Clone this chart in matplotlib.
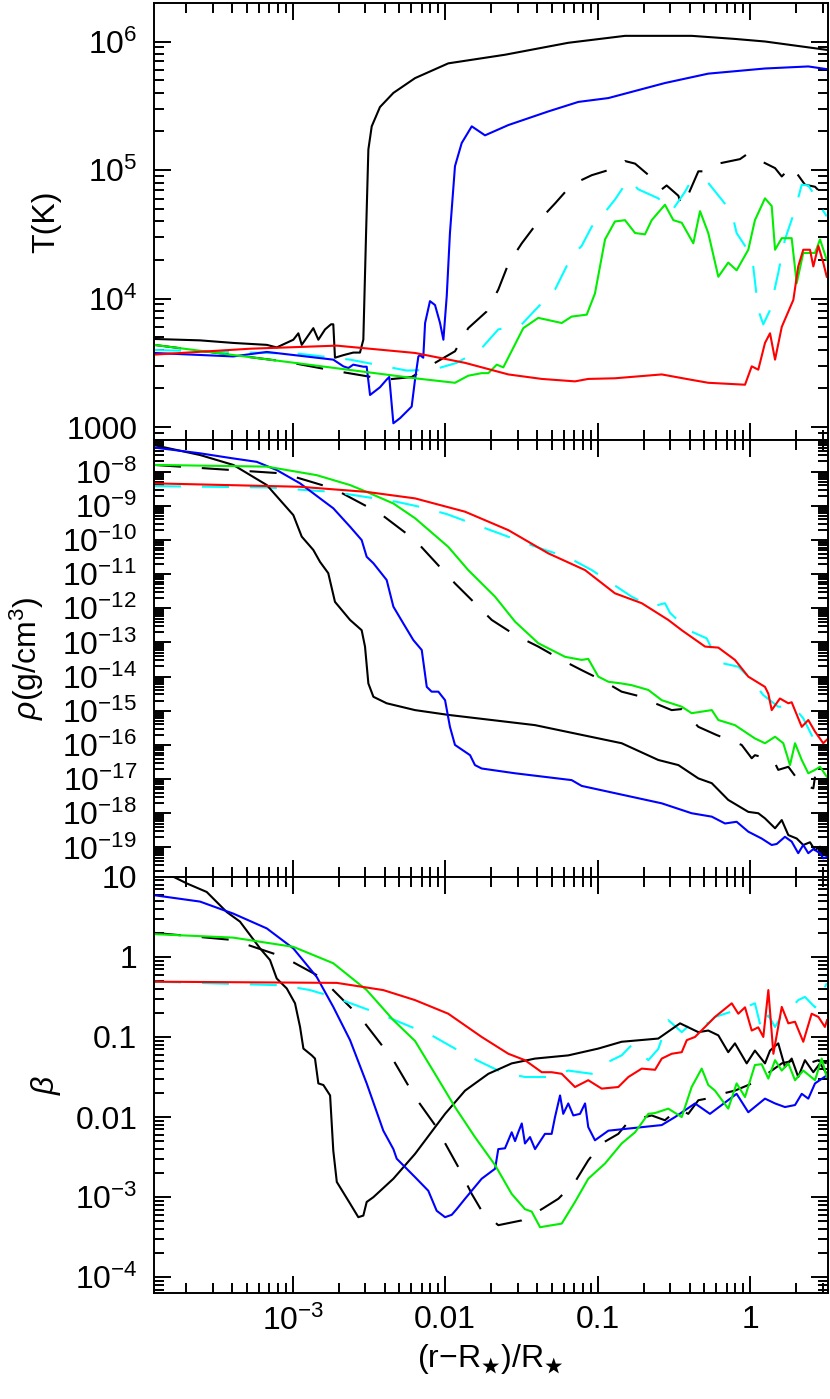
import numpy as np
import matplotlib.pyplot as plt
from matplotlib.ticker import LogLocator, FuncFormatter, NullFormatter

plt.rcParams['font.family'] = ['Liberation Sans', 'DejaVu Sans']
plt.rcParams['mathtext.fontset'] = 'custom'
plt.rcParams['mathtext.rm'] = 'Liberation Sans'
plt.rcParams['mathtext.it'] = 'Liberation Sans:italic'
plt.rcParams['mathtext.default'] = 'regular'

# all values are log10 of the quantity

# --- temperature panel ---
T_blk_x = [-3.910, -3.608, -3.390, -3.170, -3.105, -2.996, -2.963, -2.941, -2.865, -2.832, -2.788, -2.749, -2.734, -2.723, -2.668, -2.603, -2.559, -2.537, -2.519, -2.504, -2.482, -2.428, -2.340, -2.198, -1.980, -1.608, -1.193, -0.821, -0.384, -0.100, 0.097, 0.502]
T_blk_y = [3.686, 3.675, 3.655, 3.64, 3.62, 3.68, 3.73, 3.64, 3.77, 3.68, 3.76, 3.80, 3.80, 3.54, 3.56, 3.58, 3.58, 3.68, 4.51, 5.16, 5.34, 5.49, 5.60, 5.715, 5.83, 5.897, 5.99, 6.044, 6.044, 6.02, 6.0, 5.935]

T_blu_x = [-3.910, -3.390, -3.170, -2.734, -2.668, -2.635, -2.603, -2.537, -2.515, -2.493, -2.428, -2.384, -2.367, -2.340, -2.296, -2.220, -2.198, -2.176, -2.165, -2.144, -2.132, -2.100, -2.067, -2.034, -2.012, -1.990, -1.969, -1.936, -1.892, -1.826, -1.739, -1.586, -1.324, -1.127, -0.930, -0.559, -0.275, 0.097, 0.381, 0.502]
T_blu_y = [3.577, 3.55, 3.585, 3.525, 3.473, 3.46, 3.486, 3.47, 3.47, 3.25, 3.31, 3.37, 3.39, 3.03, 3.07, 3.16, 3.37, 3.55, 3.56, 3.54, 3.81, 3.98, 3.95, 3.81, 3.68, 4.02, 4.51, 5.03, 5.21, 5.34, 5.27, 5.35, 5.456, 5.53, 5.56, 5.677, 5.75, 5.79, 5.806, 5.785]

T_red_x = [-3.910, -3.280, -2.711, -2.198, -1.870, -1.586, -1.367, -1.149, -1.062, -0.887, -0.580, -0.395, -0.275, -0.034, 0.010, 0.053, 0.097, 0.130, 0.163, 0.207, 0.283, 0.315, 0.348, 0.392, 0.414, 0.447, 0.479, 0.502]
T_red_y = [3.564, 3.61, 3.634, 3.577, 3.50, 3.41, 3.375, 3.356, 3.375, 3.38, 3.41, 3.37, 3.345, 3.33, 3.473, 3.447, 3.655, 3.73, 3.525, 3.78, 3.99, 4.25, 4.38, 4.38, 4.25, 4.41, 4.28, 4.17]

T_grn_x = [-3.910, -2.198, -1.936, -1.849, -1.761, -1.717, -1.662, -1.619, -1.488, -1.390, -1.236, -1.171, -1.072, -1.018, -0.952, -0.887, -0.821, -0.755, -0.690, -0.646, -0.559, -0.504, -0.449, -0.373, -0.329, -0.275, -0.209, -0.144, -0.089, -0.0125, 0.031, 0.097, 0.141, 0.163, 0.207, 0.272, 0.305, 0.348, 0.425, 0.458, 0.502]
T_grn_y = [3.64, 3.38, 3.345, 3.40, 3.42, 3.42, 3.486, 3.465, 3.77, 3.85, 3.81, 3.86, 3.875, 4.04, 4.46, 4.60, 4.61, 4.51, 4.50, 4.61, 4.73, 4.61, 4.59, 4.43, 4.68, 4.51, 4.17, 4.28, 4.22, 4.38, 4.61, 4.78, 4.72, 4.38, 4.47, 4.47, 4.12, 4.355, 4.355, 4.46, 4.30]

T_bda_x = [-3.910, -3.050, -2.734, -2.384, -2.220, -2.067, -1.936, -1.849, -1.728, -1.652, -1.586, -1.498, -1.390, -1.280, -1.171, -1.039, -0.887, -0.821, -0.755, -0.646, -0.580, -0.548, -0.471, -0.449, -0.406, -0.340, -0.275, -0.209, -0.067, -0.0125, 0.053, 0.163, 0.207, 0.272, 0.359, 0.425, 0.458, 0.502]
T_bda_y = [3.64, 3.51, 3.44, 3.37, 3.39, 3.50, 3.59, 3.77, 3.90, 4.07, 4.27, 4.43, 4.60, 4.74, 4.886, 4.96, 5.015, 5.07, 5.05, 4.94, 4.85, 4.88, 4.80, 4.72, 4.81, 4.99, 4.99, 5.05, 5.085, 5.13, 5.08, 5.015, 4.95, 5.03, 4.886, 4.87, 4.83, 4.84]

T_cya_x = [-3.910, -2.952, -2.624, -2.252, -2.078, -1.925, -1.772, -1.652, -1.498, -1.411, -1.280, -1.171, -1.105, -1.039, -0.974, -0.887, -0.799, -0.734, -0.603, -0.515, -0.428, -0.395, -0.275, -0.187, -0.121, -0.089, -0.034, 0.020, 0.053, 0.086, 0.130, 0.184, 0.228, 0.294, 0.338, 0.381, 0.414, 0.458, 0.502]
T_cya_y = [3.60, 3.57, 3.525, 3.44, 3.447, 3.50, 3.60, 3.76, 3.80, 3.91, 4.07, 4.33, 4.41, 4.56, 4.64, 4.77, 4.925, 4.85, 4.78, 4.68, 4.83, 4.90, 4.90, 4.77, 4.67, 4.51, 4.41, 4.25, 3.91, 3.80, 3.91, 4.20, 4.46, 4.69, 4.886, 4.88, 4.82, 4.72, 4.64]

# --- density panel ---
R_blk_x = [-3.910, -3.608, -3.390, -3.170, -2.996, -2.941, -2.865, -2.821, -2.767, -2.723, -2.624, -2.548, -2.526, -2.504, -2.471, -2.384, -2.198, -1.980, -1.411, -0.843, -0.603, -0.471, -0.340, -0.252, -0.144, -0.0125, 0.053, 0.097, 0.163, 0.207, 0.250, 0.305, 0.348, 0.392, 0.425, 0.458, 0.502]
R_blk_y = [-7.22, -7.51, -7.80, -8.39, -9.27, -9.90, -10.29, -10.64, -10.97, -11.81, -12.34, -12.64, -13.12, -14.20, -14.59, -14.78, -14.98, -15.12, -15.42, -15.95, -16.44, -16.59, -16.98, -17.12, -17.61, -17.96, -18.0, -18.15, -18.44, -18.20, -18.64, -18.74, -18.93, -18.85, -19.08, -18.98, -19.13]

R_blu_x = [-3.910, -3.608, -3.390, -3.236, -3.105, -2.952, -2.821, -2.734, -2.624, -2.548, -2.515, -2.471, -2.384, -2.340, -2.275, -2.209, -2.154, -2.121, -2.089, -2.045, -2.001, -1.969, -1.936, -1.870, -1.837, -1.805, -1.761, -1.542, -1.171, -1.105, -0.580, -0.384, -0.252, -0.165, -0.089, -0.0125, 0.075, 0.141, 0.174, 0.228, 0.272, 0.315, 0.348, 0.381, 0.414, 0.458, 0.479, 0.502]
R_blu_y = [-7.29, -7.46, -7.61, -7.71, -7.95, -8.34, -8.78, -9.07, -9.61, -10.0, -10.49, -10.68, -11.17, -11.95, -12.44, -12.93, -13.22, -14.30, -14.44, -14.44, -14.69, -15.47, -16.0, -16.20, -16.30, -16.59, -16.69, -16.83, -17.03, -17.20, -17.71, -18.0, -18.10, -18.30, -18.25, -18.54, -18.74, -18.93, -18.90, -18.69, -18.83, -19.17, -18.93, -19.17, -19.05, -19.17, -19.32, -19.28]

R_grn_x = [-3.910, -3.170, -2.843, -2.624, -2.515, -2.340, -2.198, -1.980, -1.849, -1.673, -1.542, -1.390, -1.214, -1.105, -1.062, -0.996, -0.930, -0.843, -0.777, -0.668, -0.580, -0.449, -0.384, -0.252, -0.209, -0.100, 0.031, 0.097, 0.163, 0.217, 0.261, 0.294, 0.338, 0.381, 0.425, 0.458, 0.502]
R_grn_y = [-7.80, -7.85, -8.10, -8.39, -8.59, -8.93, -9.36, -10.20, -10.88, -11.66, -12.39, -13.02, -13.42, -13.51, -13.48, -14.0, -14.15, -14.20, -14.25, -14.39, -14.69, -14.88, -15.07, -14.98, -15.27, -15.42, -15.81, -15.95, -15.76, -15.95, -16.59, -15.95, -16.44, -16.83, -16.73, -16.64, -16.93]

R_red_x = [-3.910, -2.952, -2.515, -2.198, -1.870, -1.586, -1.324, -1.083, -0.887, -0.711, -0.537, -0.449, -0.296, -0.209, -0.100, -0.0125, 0.097, 0.119, 0.141, 0.195, 0.250, 0.272, 0.338, 0.381, 0.425, 0.479, 0.502]
R_red_y = [-8.34, -8.44, -8.59, -8.78, -9.17, -9.71, -10.39, -10.88, -11.56, -11.85, -12.34, -12.64, -13.12, -13.15, -13.51, -14.0, -14.30, -14.50, -14.98, -14.64, -14.78, -14.75, -15.47, -15.27, -15.61, -15.95, -15.85]

R_cya_x = [-3.910, -3.170, -2.734, -2.318, -2.154, -1.990, -1.826, -1.673, -1.498, -1.346, -1.193, -1.039, -0.908, -0.777, -0.646, -0.559, -0.526, -0.406, -0.285, -0.209, -0.078, 0.010, 0.086, 0.184, 0.283, 0.348, 0.414, 0.502]
R_cya_y = [-8.42, -8.46, -8.59, -8.88, -9.04, -9.24, -9.51, -9.76, -10.05, -10.29, -10.51, -10.88, -11.27, -11.66, -11.95, -11.85, -12.13, -12.64, -12.88, -13.58, -13.71, -14.10, -14.54, -14.88, -14.88, -15.22, -15.81, -15.56]

R_bda_x = [-3.910, -3.062, -2.734, -2.428, -2.198, -1.936, -1.695, -1.542, -1.390, -1.236, -1.105, -0.974, -0.843, -0.711, -0.624, -0.515, -0.449, -0.340, -0.220, -0.056, 0.010, 0.031, 0.152, 0.184, 0.250, 0.338, 0.414, 0.425]
R_bda_y = [-7.80, -8.05, -8.49, -9.22, -10.0, -11.27, -12.34, -12.78, -13.12, -13.51, -13.81, -14.10, -14.44, -14.59, -14.78, -14.98, -14.95, -15.47, -15.71, -16.0, -16.39, -16.30, -16.44, -16.73, -16.64, -17.17, -17.27, -16.93]

# --- plasma beta panel ---
B_blk_x = [-3.910, -3.783, -3.695, -3.564, -3.433, -3.346, -3.214, -3.149, -3.105, -3.039, -2.985, -2.952, -2.930, -2.875, -2.854, -2.832, -2.799, -2.755, -2.734, -2.711, -2.624, -2.570, -2.537, -2.515, -2.471, -2.340, -2.198, -2.001, -1.870, -1.717, -1.564, -1.411, -1.193, -0.996, -0.843, -0.603, -0.460, -0.340, -0.275, -0.209, -0.144, -0.100, -0.023, 0.031, 0.097, 0.130, 0.184, 0.228, 0.272, 0.315, 0.359, 0.414, 0.458, 0.502]
B_blk_y = [1.10, 1.0, 0.917, 0.81, 0.56, 0.44, 0.105, -0.04, -0.27, -0.395, -0.58, -0.875, -1.145, -1.23, -1.27, -1.58, -1.60, -1.73, -2.42, -2.81, -3.08, -3.25, -3.23, -3.06, -3.0, -2.77, -2.46, -1.96, -1.67, -1.46, -1.33, -1.27, -1.23, -1.145, -1.06, -1.02, -0.83, -0.94, -0.92, -0.98, -1.19, -1.08, -1.33, -1.17, -1.33, -1.17, -1.08, -1.375, -1.27, -1.5, -1.29, -1.44, -1.33, -1.46]

B_blu_x = [-3.910, -3.608, -3.390, -3.170, -2.996, -2.843, -2.734, -2.624, -2.515, -2.406, -2.340, -2.318, -2.198, -2.111, -2.056, -2.001, -1.957, -1.925, -1.870, -1.761, -1.673, -1.652, -1.608, -1.564, -1.542, -1.521, -1.498, -1.477, -1.444, -1.411, -1.346, -1.302, -1.280, -1.247, -1.226, -1.193, -1.160, -1.116, -1.083, -1.062, -1.018, -0.930, -0.580, -0.493, -0.362, -0.264, -0.089, -0.0125, 0.097, 0.163, 0.228, 0.294, 0.338, 0.381, 0.425, 0.502]
B_blu_y = [0.77, 0.69, 0.54, 0.355, 0.105, -0.25, -0.625, -1.04, -1.58, -2.17, -2.40, -2.52, -2.75, -2.92, -3.17, -3.25, -3.22, -3.15, -3.02, -2.77, -2.645, -2.40, -2.39, -2.19, -2.30, -2.19, -2.08, -2.33, -2.25, -2.40, -2.21, -2.21, -2.0, -1.73, -1.96, -1.83, -1.98, -1.96, -1.83, -2.125, -2.29, -2.17, -2.10, -2.0, -1.83, -1.96, -1.71, -1.94, -1.77, -1.83, -1.875, -1.85, -1.71, -1.77, -1.58, -1.48]

B_grn_x = [-3.910, -3.390, -2.996, -2.734, -2.515, -2.340, -2.198, -2.067, -1.936, -1.805, -1.673, -1.564, -1.477, -1.433, -1.378, -1.236, -1.149, -1.062, -0.952, -0.843, -0.755, -0.668, -0.624, -0.537, -0.449, -0.384, -0.318, -0.275, -0.231, -0.144, -0.089, -0.034, 0.031, 0.075, 0.119, 0.163, 0.207, 0.250, 0.294, 0.348, 0.425, 0.469, 0.502]
B_grn_y = [0.284, 0.24, 0.125, -0.08, -0.415, -0.79, -1.05, -1.46, -1.875, -2.25, -2.60, -2.96, -3.15, -3.18, -3.375, -3.33, -3.06, -2.77, -2.58, -2.33, -2.19, -1.96, -1.95, -1.895, -2.0, -1.625, -1.395, -1.60, -1.67, -1.895, -1.58, -1.75, -1.35, -1.34, -1.52, -1.29, -1.42, -1.33, -1.54, -1.42, -1.54, -1.27, -1.5]

B_red_x = [-3.910, -2.711, -2.406, -2.198, -1.980, -1.761, -1.586, -1.477, -1.367, -1.302, -1.236, -1.149, -1.062, -0.974, -0.865, -0.799, -0.711, -0.624, -0.580, -0.515, -0.449, -0.416, -0.362, -0.296, -0.231, -0.121, -0.078, -0.034, 0.010, 0.053, 0.086, 0.119, 0.152, 0.207, 0.250, 0.294, 0.348, 0.403, 0.447, 0.490, 0.504]
B_red_y = [-0.31, -0.325, -0.415, -0.54, -0.71, -1.0, -1.21, -1.29, -1.44, -1.44, -1.46, -1.625, -1.54, -1.645, -1.625, -1.5, -1.395, -1.41, -1.27, -1.21, -1.19, -1.04, -1.0, -0.875, -0.75, -0.58, -0.71, -0.63, -0.92, -0.88, -1.0, -0.415, -1.21, -0.625, -0.83, -0.81, -1.06, -0.71, -0.75, -0.875, -0.79]

B_cya_x = [-3.910, -3.062, -2.887, -2.734, -2.406, -2.198, -2.089, -1.936, -1.793, -1.630, -1.477, -1.324, -1.193, -1.039, -0.952, -0.843, -0.777, -0.668, -0.603, -0.537, -0.449, -0.362, -0.275, -0.231, -0.100, -0.034, 0.031, 0.075, 0.119, 0.163, 0.207, 0.272, 0.315, 0.359, 0.425, 0.469, 0.502]
B_cya_y = [-0.31, -0.355, -0.415, -0.50, -0.73, -0.895, -0.98, -1.145, -1.29, -1.44, -1.50, -1.50, -1.42, -1.46, -1.33, -1.23, -1.10, -1.29, -1.15, -0.79, -0.94, -0.79, -0.83, -0.75, -0.67, -0.63, -0.58, -0.92, -0.73, -0.875, -0.73, -0.63, -0.54, -0.50, -0.63, -0.46, -0.33]

B_bda_x = [-3.910, -3.390, -3.062, -2.821, -2.559, -2.340, -2.198, -2.067, -1.914, -1.826, -1.761, -1.652, -1.498, -1.367, -1.258, -1.149, -1.062, -0.974, -0.865, -0.799, -0.690, -0.646, -0.559, -0.471, -0.406, -0.340, -0.231, -0.187, -0.100, -0.0125, 0.053, 0.141, 0.207, 0.294, 0.381, 0.447, 0.502]
B_bda_y = [0.30, 0.21, 0.0, -0.25, -0.75, -1.29, -1.75, -2.10, -2.625, -2.96, -3.17, -3.35, -3.29, -3.15, -3.02, -2.81, -2.54, -2.33, -2.21, -2.06, -2.0, -1.98, -2.04, -1.895, -1.96, -1.79, -1.75, -1.71, -1.67, -1.60, -1.54, -1.42, -1.33, -1.29, -1.33, -1.29, -1.33]

xlim_log = (-3.910, 0.507)
ylims_log = [(2.90, 6.30), (-19.86, -7.07), (-4.196, 1.0)]
ylabels = ['T(K)', r'$\mathit{\rho}$(g/cm$^3$)', r'$\mathit{\beta}$']

long_dash = (13, 10)
panels = [
    [(T_bda_x, T_bda_y, 'k', long_dash), (T_cya_x, T_cya_y, '#00ffff', long_dash),
     (T_blk_x, T_blk_y, 'k', None), (T_blu_x, T_blu_y, '#0000ff', None),
     (T_grn_x, T_grn_y, '#00ee00', None), (T_red_x, T_red_y, '#ff0000', None)],
    [(R_bda_x, R_bda_y, 'k', long_dash), (R_cya_x, R_cya_y, '#00ffff', long_dash),
     (R_blk_x, R_blk_y, 'k', None), (R_blu_x, R_blu_y, '#0000ff', None),
     (R_grn_x, R_grn_y, '#00ee00', None), (R_red_x, R_red_y, '#ff0000', None)],
    [(B_bda_x, B_bda_y, 'k', long_dash), (B_cya_x, B_cya_y, '#00ffff', long_dash),
     (B_blk_x, B_blk_y, 'k', None), (B_blu_x, B_blu_y, '#0000ff', None),
     (B_grn_x, B_grn_y, '#00ee00', None), (B_red_x, B_red_y, '#ff0000', None)],
]


def label_fmt(v, pos):
    n = int(round(np.log10(v)))
    if 0 <= n <= 3:
        return '%d' % round(v)
    if -2 <= n < 0:
        return '%.*f' % (-n, v)
    return '$10^{%d}$' % n


fig = plt.figure(figsize=(8.3, 13.99), dpi=100)
rects = [[0.1855, 0.6855, 0.8115, 0.3124],
         [0.1855, 0.3733, 0.8115, 0.3122],
         [0.1855, 0.0758, 0.8115, 0.2975]]
label_x = [-0.137, -0.160, -0.135]

for i, (rect, series) in enumerate(zip(rects, panels)):
    ax = fig.add_axes(rect)
    for lx, ly, col, dash in series:
        line, = ax.plot(10**np.array(lx), 10**np.array(ly), color=col, lw=1.5)
        if dash:
            line.set_dashes(dash)
    ax.set_xscale('log')
    ax.set_yscale('log')
    ax.set_xlim(10**xlim_log[0], 10**xlim_log[1])
    ax.set_ylim(10**ylims_log[i][0], 10**ylims_log[i][1])
    for axis in (ax.xaxis, ax.yaxis):
        axis.set_major_locator(LogLocator(base=10, numticks=40))
        axis.set_minor_locator(LogLocator(base=10, subs=np.arange(2, 10), numticks=40))
        axis.set_minor_formatter(NullFormatter())
        axis.set_major_formatter(FuncFormatter(label_fmt))
    ax.tick_params(which='both', direction='in', top=True, right=True, width=1.4, labelsize=23)
    ax.tick_params(which='major', length=12, pad=12)
    ax.tick_params(which='minor', length=7)
    ax.tick_params(axis='x', pad=9)
    for s in ax.spines.values():
        s.set_linewidth(1.4)
    if i < 2:
        ax.tick_params(axis='x', labelbottom=False)
    else:
        ax.set_xlabel(r'(r$-$R$_\bigstar$)/R$_\bigstar$', fontsize=23, labelpad=4)
    ax.set_ylabel(ylabels[i], fontsize=23)
    ax.yaxis.set_label_coords(label_x[i], 0.5)

fig.savefig('out.png', dpi=100)
